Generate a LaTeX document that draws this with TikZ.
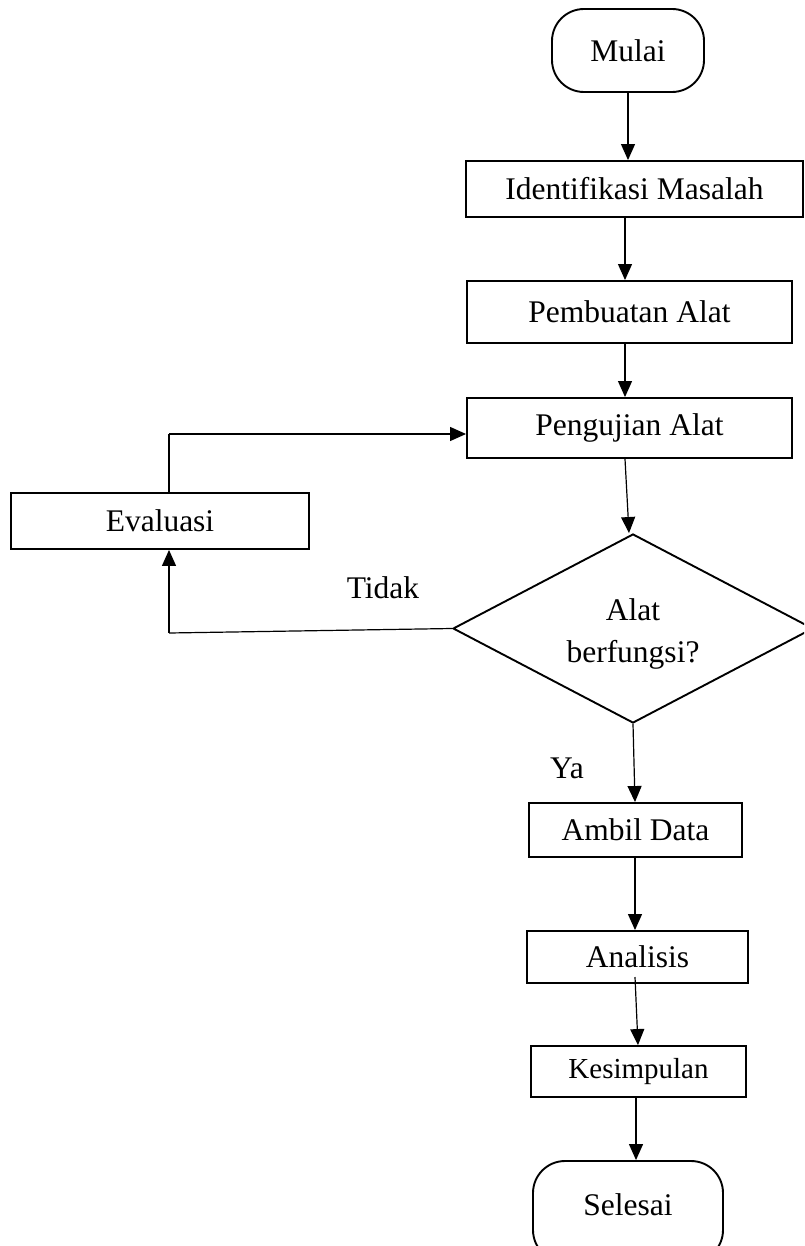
\documentclass[tikz,border=0pt]{standalone}
\usepackage{fontspec}
\setmainfont{Liberation Serif}
\usetikzlibrary{arrows.meta,shapes.geometric,calc}
\begin{document}
\begin{tikzpicture}[x=1pt,y=-1pt,
  every node/.style={font=\fontsize{31.5}{40}\selectfont},
  procbox/.style={draw,line width=1.9pt,inner sep=0pt},
  termbox/.style={draw,line width=1.9pt,inner sep=0pt,rounded corners=32pt},
  decbox/.style={draw,diamond,line width=1.9pt,inner sep=0pt,minimum width=360pt,minimum height=189pt},
  lbl/.style={inner sep=0pt},
  arr/.style={line width=1.2pt,-{Triangle[length=16pt,width=14pt]}},
  ln/.style={line width=1.2pt}]
\useasboundingbox (0,0) rectangle (804,1246);
\clip (0,0) rectangle (804,1246);
\node[termbox,minimum width=152pt,minimum height=83pt] (mulai) at (628,50.5) {Mulai};
\node[procbox,minimum width=337pt,minimum height=56pt] (ident) at (634.5,189) {Identifikasi Masalah};
\node[procbox,minimum width=325pt,minimum height=62pt] (pemb) at (629.5,312) {Pembuatan Alat};
\node[procbox,minimum width=325pt,minimum height=60pt] (peng) at (629.5,428) {Pengujian Alat};
\node[procbox,minimum width=298pt,minimum height=56pt] (eval) at (160,521) {Evaluasi};
\node[decbox] (dec) at (633,628.5) {};
\node[lbl,align=center,font=\fontsize{31.5}{42}\selectfont] (dectext) at (633,634) {Alat\\berfungsi?};
\node[procbox,minimum width=213pt,minimum height=54pt] (ambil) at (635.5,830) {Ambil Data};
\node[procbox,minimum width=221pt,minimum height=52pt] (anal) at (637.5,957) {Analisis};
\node[procbox,minimum width=215pt,minimum height=51pt,font=\fontsize{29}{34}\selectfont] (kesim) at (638.5,1071.5) {Kesimpulan};
\node[termbox,minimum width=190pt,minimum height=101pt] (selesai) at (628,1211.5) {};
\node[lbl] (selesaitext) at (628,1205) {Selesai};
\node[lbl] (tidak) at (383,588) {Tidak};
\node[lbl] (ya) at (567,768) {Ya};
% column coordinates
\coordinate (c625) at (625,0);
\coordinate (c629) at (629,0);
\coordinate (c635) at (635,0);
\coordinate (c636) at (636,0);
\coordinate (c638) at (638,0);
\coordinate (c169) at (169,0);
\coordinate (anatop) at (635,977);
\coordinate (lowcorner) at (169,633);
\coordinate (upcorner) at (169,434);
% connectors
\draw[arr] (mulai.south) -- (mulai.south |- ident.north);
\draw[arr] (ident.south -| c625) -- (pemb.north -| c625);
\draw[arr] (pemb.south -| c625) -- (peng.north -| c625);
\draw[arr] (peng.south -| c625) -- (c629 |- dec.north);
\draw[arr] (dec.south) -- (ambil.north -| c635);
\draw[arr] (ambil.south -| c635) -- (anal.north -| c635);
\draw[arr] (anatop) -- (kesim.north -| c638);
\draw[arr] (kesim.south -| c636) -- (selesai.north -| c636);
\draw[ln] (dec.west) -- (lowcorner);
\draw[arr] (lowcorner) -- (eval.south -| c169);
\draw[ln] (eval.north -| c169) -- (upcorner);
\draw[arr] (upcorner) -- (peng.west |- upcorner);
\end{tikzpicture}
\end{document}
